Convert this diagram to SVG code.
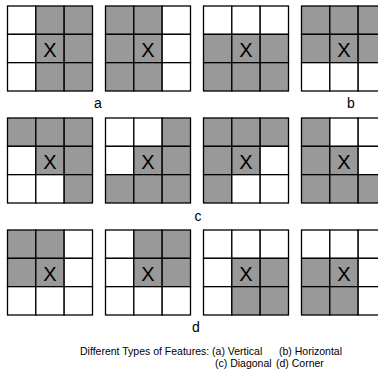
<svg xmlns="http://www.w3.org/2000/svg" width="378" height="370" viewBox="0 0 378 370">
<style>
.g{fill:#999999;stroke:#000;stroke-width:1.3}
.w{fill:#ffffff;stroke:#000;stroke-width:1.3}
.x{font-family:"Liberation Sans",Arial,sans-serif;font-size:20px;fill:#000;text-anchor:middle}
.lbl{font-family:"Liberation Sans",Arial,sans-serif;font-size:14px;fill:#000;text-anchor:middle}
.cap{font-family:"Liberation Sans",Arial,sans-serif;font-size:10.5px;fill:#000}
</style>
<rect width="378" height="370" fill="#fff"/>
<!-- Row 1: (a) vertical, (b) horizontal -->
<g id="a1" transform="translate(7.5,6)">
<rect class="w" x="0" y="0" width="28.33" height="28.33"/><rect class="g" x="28.33" y="0" width="28.33" height="28.33"/><rect class="g" x="56.67" y="0" width="28.33" height="28.33"/>
<rect class="w" x="0" y="28.33" width="28.33" height="28.33"/><rect class="g" x="28.33" y="28.33" width="28.33" height="28.33"/><rect class="g" x="56.67" y="28.33" width="28.33" height="28.33"/>
<rect class="w" x="0" y="56.67" width="28.33" height="28.33"/><rect class="g" x="28.33" y="56.67" width="28.33" height="28.33"/><rect class="g" x="56.67" y="56.67" width="28.33" height="28.33"/>
<text class="x" x="42.5" y="50.5">X</text>
</g>
<g id="a2" transform="translate(105.5,6)">
<rect class="g" x="0" y="0" width="28.33" height="28.33"/><rect class="g" x="28.33" y="0" width="28.33" height="28.33"/><rect class="w" x="56.67" y="0" width="28.33" height="28.33"/>
<rect class="g" x="0" y="28.33" width="28.33" height="28.33"/><rect class="g" x="28.33" y="28.33" width="28.33" height="28.33"/><rect class="w" x="56.67" y="28.33" width="28.33" height="28.33"/>
<rect class="g" x="0" y="56.67" width="28.33" height="28.33"/><rect class="g" x="28.33" y="56.67" width="28.33" height="28.33"/><rect class="w" x="56.67" y="56.67" width="28.33" height="28.33"/>
<text class="x" x="42.5" y="50.5">X</text>
</g>
<g id="b1" transform="translate(203.5,6)">
<rect class="w" x="0" y="0" width="28.33" height="28.33"/><rect class="w" x="28.33" y="0" width="28.33" height="28.33"/><rect class="w" x="56.67" y="0" width="28.33" height="28.33"/>
<rect class="g" x="0" y="28.33" width="28.33" height="28.33"/><rect class="g" x="28.33" y="28.33" width="28.33" height="28.33"/><rect class="g" x="56.67" y="28.33" width="28.33" height="28.33"/>
<rect class="g" x="0" y="56.67" width="28.33" height="28.33"/><rect class="g" x="28.33" y="56.67" width="28.33" height="28.33"/><rect class="g" x="56.67" y="56.67" width="28.33" height="28.33"/>
<text class="x" x="42.5" y="50.5">X</text>
</g>
<g id="b2" transform="translate(301.5,6)">
<rect class="g" x="0" y="0" width="28.33" height="28.33"/><rect class="g" x="28.33" y="0" width="28.33" height="28.33"/><rect class="g" x="56.67" y="0" width="28.33" height="28.33"/>
<rect class="g" x="0" y="28.33" width="28.33" height="28.33"/><rect class="g" x="28.33" y="28.33" width="28.33" height="28.33"/><rect class="g" x="56.67" y="28.33" width="28.33" height="28.33"/>
<rect class="w" x="0" y="56.67" width="28.33" height="28.33"/><rect class="w" x="28.33" y="56.67" width="28.33" height="28.33"/><rect class="w" x="56.67" y="56.67" width="28.33" height="28.33"/>
<text class="x" x="42.5" y="50.5">X</text>
</g>
<!-- Row 2: (c) diagonal -->
<g id="c1" transform="translate(7.5,118)">
<rect class="g" x="0" y="0" width="28.33" height="28.33"/><rect class="g" x="28.33" y="0" width="28.33" height="28.33"/><rect class="g" x="56.67" y="0" width="28.33" height="28.33"/>
<rect class="w" x="0" y="28.33" width="28.33" height="28.33"/><rect class="g" x="28.33" y="28.33" width="28.33" height="28.33"/><rect class="g" x="56.67" y="28.33" width="28.33" height="28.33"/>
<rect class="w" x="0" y="56.67" width="28.33" height="28.33"/><rect class="w" x="28.33" y="56.67" width="28.33" height="28.33"/><rect class="g" x="56.67" y="56.67" width="28.33" height="28.33"/>
<text class="x" x="42.5" y="50.5">X</text>
</g>
<g id="c2" transform="translate(105.5,118)">
<rect class="w" x="0" y="0" width="28.33" height="28.33"/><rect class="w" x="28.33" y="0" width="28.33" height="28.33"/><rect class="g" x="56.67" y="0" width="28.33" height="28.33"/>
<rect class="w" x="0" y="28.33" width="28.33" height="28.33"/><rect class="g" x="28.33" y="28.33" width="28.33" height="28.33"/><rect class="g" x="56.67" y="28.33" width="28.33" height="28.33"/>
<rect class="g" x="0" y="56.67" width="28.33" height="28.33"/><rect class="g" x="28.33" y="56.67" width="28.33" height="28.33"/><rect class="g" x="56.67" y="56.67" width="28.33" height="28.33"/>
<text class="x" x="42.5" y="50.5">X</text>
</g>
<g id="c3" transform="translate(203.5,118)">
<rect class="g" x="0" y="0" width="28.33" height="28.33"/><rect class="g" x="28.33" y="0" width="28.33" height="28.33"/><rect class="g" x="56.67" y="0" width="28.33" height="28.33"/>
<rect class="g" x="0" y="28.33" width="28.33" height="28.33"/><rect class="g" x="28.33" y="28.33" width="28.33" height="28.33"/><rect class="w" x="56.67" y="28.33" width="28.33" height="28.33"/>
<rect class="g" x="0" y="56.67" width="28.33" height="28.33"/><rect class="w" x="28.33" y="56.67" width="28.33" height="28.33"/><rect class="w" x="56.67" y="56.67" width="28.33" height="28.33"/>
<text class="x" x="42.5" y="50.5">X</text>
</g>
<g id="c4" transform="translate(301.5,118)">
<rect class="g" x="0" y="0" width="28.33" height="28.33"/><rect class="w" x="28.33" y="0" width="28.33" height="28.33"/><rect class="w" x="56.67" y="0" width="28.33" height="28.33"/>
<rect class="g" x="0" y="28.33" width="28.33" height="28.33"/><rect class="g" x="28.33" y="28.33" width="28.33" height="28.33"/><rect class="w" x="56.67" y="28.33" width="28.33" height="28.33"/>
<rect class="g" x="0" y="56.67" width="28.33" height="28.33"/><rect class="g" x="28.33" y="56.67" width="28.33" height="28.33"/><rect class="g" x="56.67" y="56.67" width="28.33" height="28.33"/>
<text class="x" x="42.5" y="50.5">X</text>
</g>
<!-- Row 3: (d) corner -->
<g id="d1" transform="translate(7.5,230)">
<rect class="g" x="0" y="0" width="28.33" height="28.33"/><rect class="g" x="28.33" y="0" width="28.33" height="28.33"/><rect class="w" x="56.67" y="0" width="28.33" height="28.33"/>
<rect class="g" x="0" y="28.33" width="28.33" height="28.33"/><rect class="g" x="28.33" y="28.33" width="28.33" height="28.33"/><rect class="w" x="56.67" y="28.33" width="28.33" height="28.33"/>
<rect class="w" x="0" y="56.67" width="28.33" height="28.33"/><rect class="w" x="28.33" y="56.67" width="28.33" height="28.33"/><rect class="w" x="56.67" y="56.67" width="28.33" height="28.33"/>
<text class="x" x="42.5" y="50.5">X</text>
</g>
<g id="d2" transform="translate(105.5,230)">
<rect class="w" x="0" y="0" width="28.33" height="28.33"/><rect class="g" x="28.33" y="0" width="28.33" height="28.33"/><rect class="g" x="56.67" y="0" width="28.33" height="28.33"/>
<rect class="w" x="0" y="28.33" width="28.33" height="28.33"/><rect class="g" x="28.33" y="28.33" width="28.33" height="28.33"/><rect class="g" x="56.67" y="28.33" width="28.33" height="28.33"/>
<rect class="w" x="0" y="56.67" width="28.33" height="28.33"/><rect class="w" x="28.33" y="56.67" width="28.33" height="28.33"/><rect class="w" x="56.67" y="56.67" width="28.33" height="28.33"/>
<text class="x" x="42.5" y="50.5">X</text>
</g>
<g id="d3" transform="translate(203.5,230)">
<rect class="w" x="0" y="0" width="28.33" height="28.33"/><rect class="w" x="28.33" y="0" width="28.33" height="28.33"/><rect class="w" x="56.67" y="0" width="28.33" height="28.33"/>
<rect class="w" x="0" y="28.33" width="28.33" height="28.33"/><rect class="g" x="28.33" y="28.33" width="28.33" height="28.33"/><rect class="g" x="56.67" y="28.33" width="28.33" height="28.33"/>
<rect class="w" x="0" y="56.67" width="28.33" height="28.33"/><rect class="g" x="28.33" y="56.67" width="28.33" height="28.33"/><rect class="g" x="56.67" y="56.67" width="28.33" height="28.33"/>
<text class="x" x="42.5" y="50.5">X</text>
</g>
<g id="d4" transform="translate(301.5,230)">
<rect class="w" x="0" y="0" width="28.33" height="28.33"/><rect class="w" x="28.33" y="0" width="28.33" height="28.33"/><rect class="w" x="56.67" y="0" width="28.33" height="28.33"/>
<rect class="g" x="0" y="28.33" width="28.33" height="28.33"/><rect class="g" x="28.33" y="28.33" width="28.33" height="28.33"/><rect class="w" x="56.67" y="28.33" width="28.33" height="28.33"/>
<rect class="g" x="0" y="56.67" width="28.33" height="28.33"/><rect class="g" x="28.33" y="56.67" width="28.33" height="28.33"/><rect class="w" x="56.67" y="56.67" width="28.33" height="28.33"/>
<text class="x" x="42.5" y="50.5">X</text>
</g>
<g id="connectors"></g>
<g id="labels">
<text class="lbl" x="98" y="108">a</text>
<text class="lbl" x="351" y="108">b</text>
<text class="lbl" x="198" y="221">c</text>
<text class="lbl" x="196" y="332">d</text>
</g>
<g id="caption">
<text class="cap" x="80" y="355">Different Types of Features: (a) Vertical</text>
<text class="cap" x="279" y="355">(b) Horizontal</text>
<text class="cap" x="215" y="366.5">(c) Diagonal</text>
<text class="cap" x="276" y="366.5">(d) Corner</text>
</g>
</svg>
